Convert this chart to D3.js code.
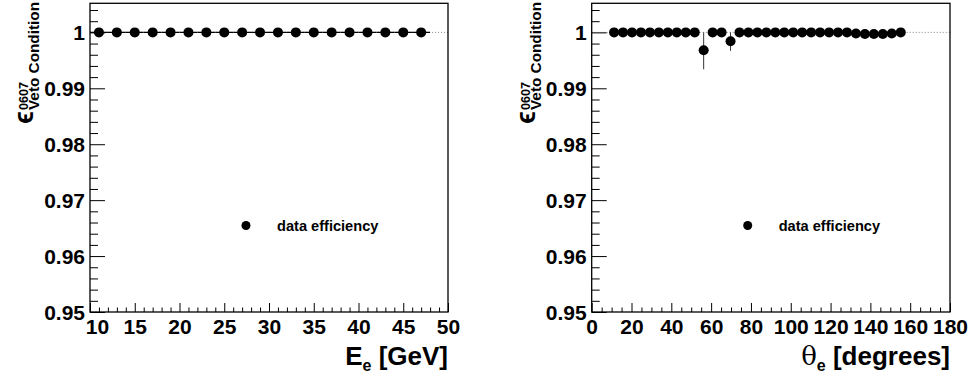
<!DOCTYPE html>
<html>
<head>
<meta charset="utf-8">
<script src="https://cdn.jsdelivr.net/npm/d3@7"></script>
<style>
  html, body { margin: 0; padding: 0; background: #fff; }
  svg { display: block; }
  text { font-family: "Liberation Sans", Arial, Helvetica, sans-serif; font-weight: bold; fill: #000; }
</style>
</head>
<body>
<svg id="chart" width="970" height="379"></svg>
<script>
// ---------------- data ----------------
const energyCenters = [11, 13, 15, 17, 19, 21, 23, 25, 27, 29, 31, 33, 35, 37, 39, 41, 43, 45, 47];
const energyEff     = [1, 1, 1, 1, 1, 1, 1, 1, 1, 1, 1, 1, 1, 1, 1, 1, 1, 1, 1];
const energyErrLow  = [0, 0, 0, 0, 0, 0, 0, 0, 0, 0, 0, 0, 0, 0, 0, 0, 0, 0, 0];
const energyErrHigh = [0, 0, 0, 0, 0, 0, 0, 0, 0, 0, 0, 0, 0, 0, 0, 0, 0, 0, 0];
const energyHalfWidth = 1;

const thetaCenters = [11.25, 15.75, 20.25, 24.75, 29.25, 33.75, 38.25, 42.75, 47.25, 51.75,
                      56.25, 60.75, 65.25, 69.75, 74.25, 78.75, 83.25, 87.75, 92.25, 96.75,
                      101.25, 105.75, 110.25, 114.75, 119.25, 123.75, 128.25, 132.75, 137.25, 141.75,
                      146.25, 150.75, 155.25];
const thetaEff     = [1, 1, 1, 1, 1, 1, 1, 1, 1, 1,
                      0.9968, 1, 1, 0.9984, 1, 1, 1, 1, 1, 1,
                      1, 1, 1, 1, 1, 1, 1, 0.9998, 0.9997, 0.9997,
                      0.9997, 0.9998, 1];
const thetaErrLow  = [0, 0, 0, 0, 0, 0, 0, 0, 0, 0,
                      0.0034, 0, 0, 0.0017, 0, 0, 0, 0, 0, 0,
                      0, 0, 0, 0, 0, 0, 0, 0.0002, 0.0003, 0.0003,
                      0.0003, 0.0002, 0];
const thetaErrHigh = [0, 0, 0, 0, 0, 0, 0, 0, 0, 0,
                      0.0032, 0, 0, 0.0016, 0, 0, 0, 0, 0, 0,
                      0, 0, 0, 0, 0, 0, 0, 0.0002, 0.0003, 0.0003,
                      0.0003, 0.0002, 0];
const thetaHalfWidth = 2.25;

const yTicks = [0.95, 0.96, 0.97, 0.98, 0.99, 1];
const yTickLabels = ["0.95", "0.96", "0.97", "0.98", "0.99", "1"];
const yMinorTicks = [0.952, 0.954, 0.956, 0.958, 0.962, 0.964, 0.966, 0.968, 0.972, 0.974, 0.976, 0.978,
                     0.982, 0.984, 0.986, 0.988, 0.992, 0.994, 0.996, 0.998, 1.002, 1.004];
const energyTicks = [10, 15, 20, 25, 30, 35, 40, 45, 50];
const energyMinorTicks = [11,12,13,14,16,17,18,19,21,22,23,24,26,27,28,29,31,32,33,34,36,37,38,39,41,42,43,44,46,47,48,49];
const thetaTicks = [0, 20, 40, 60, 80, 100, 120, 140, 160, 180];
const thetaMinorTicks = [5,10,15,25,30,35,45,50,55,65,70,75,85,90,95,105,110,115,125,130,135,145,150,155,165,170,175];
const legendLabel = "data efficiency";
const yTitleMain = "ϵ", yTitleSup = "0607", yTitleSub = "Veto Condition";

// ---------------- drawing ----------------
const svg = d3.select("#chart");
const fontSans = '"Liberation Sans", Arial, Helvetica, sans-serif';

function drawPanel(opt) {
  const { left, right, top, bottom, xDomain, xTicks, xMinor, centers, eff, errLo, errHi, halfW, xTitle } = opt;
  const x = d3.scaleLinear().domain(xDomain).range([left, right]);
  const y = d3.scaleLinear().domain([0.95, 1.0052]).range([bottom, top]);
  const g = svg.append("g");

  // dotted reference line at 1
  g.append("line")
    .attr("x1", left).attr("x2", right).attr("y1", y(1)).attr("y2", y(1))
    .attr("stroke", "#888").attr("stroke-width", 1).attr("stroke-dasharray", "1,2");

  // axes
  const axY = g.append("g").attr("transform", `translate(${left},0)`)
    .call(d3.axisLeft(y).tickValues(yTicks).tickSize(-15).tickPadding(5)
      .tickFormat((d, i) => yTickLabels[i]));
  axY.select(".domain").remove();
  axY.selectAll("text").attr("font-size", 21).attr("font-family", fontSans).attr("font-weight", "bold")
     .attr("dy", "0.36em");
  const axYm = g.append("g").attr("transform", `translate(${left},0)`)
    .call(d3.axisLeft(y).tickValues(yMinorTicks).tickSize(-8).tickFormat(""));
  axYm.select(".domain").remove();

  const axX = g.append("g").attr("transform", `translate(0,${bottom})`)
    .call(d3.axisBottom(x).tickValues(xTicks).tickSize(-9).tickPadding(7).tickFormat(d3.format("d")));
  axX.select(".domain").remove();
  axX.selectAll("text").attr("font-size", 21).attr("font-family", fontSans).attr("font-weight", "bold")
     .attr("dy", "0.71em");
  const axXm = g.append("g").attr("transform", `translate(0,${bottom})`)
    .call(d3.axisBottom(x).tickValues(xMinor).tickSize(-4.5).tickFormat(""));
  axXm.select(".domain").remove();
  g.selectAll(".tick line").attr("stroke", "#000").attr("stroke-width", 1);
  if (opt.firstLabelShift) {
    axX.select(".tick text").attr("dx", opt.firstLabelShift);
  }

  // frame
  g.append("rect").attr("x", left).attr("y", top).attr("width", right - left).attr("height", bottom - top)
    .attr("fill", "none").attr("stroke", "#000").attr("stroke-width", 1.3);

  // error bars
  const pts = centers.map((c, i) => ({ c, v: eff[i], lo: errLo[i], hi: errHi[i] }));
  g.append("g").selectAll("line.xerr").data(pts).join("line")
    .attr("x1", d => x(d.c - halfW)).attr("x2", d => x(d.c + halfW))
    .attr("y1", d => y(d.v)).attr("y2", d => y(d.v))
    .attr("stroke", "#000").attr("stroke-width", 1.3);
  g.append("g").selectAll("line.yerr").data(pts.filter(d => d.lo > 0 || d.hi > 0)).join("line")
    .attr("x1", d => x(d.c)).attr("x2", d => x(d.c))
    .attr("y1", d => y(d.v - d.lo)).attr("y2", d => y(Math.min(d.v + d.hi, 1)))
    .attr("stroke", "#333").attr("stroke-width", 1);
  g.append("g").selectAll("circle").data(pts).join("circle")
    .attr("cx", d => x(d.c)).attr("cy", d => y(d.v)).attr("r", 5).attr("fill", "#000");

  // legend
  const lx = left + 156, ly = 225.5;
  g.append("circle").attr("cx", lx).attr("cy", ly).attr("r", 4.5).attr("fill", "#000");
  g.append("text").attr("x", lx + 31).attr("y", ly + 5).attr("font-size", 14.6).text(legendLabel);

  // y title (rotated)
  const yt = (xx, yy, txt, size, weight, family, len) => {
    const t = g.append("text").attr("transform", `translate(${xx},${yy}) rotate(-90)`)
      .attr("font-size", size).attr("font-weight", weight)
      .attr("font-family", family || fontSans).text(txt);
    if (len) t.attr("textLength", len).attr("lengthAdjust", "spacingAndGlyphs");
    return t;
  };
  yt(left - 57, 124, yTitleMain, 27, "normal", '"DejaVu Sans", sans-serif');
  yt(left - 62, 110, yTitleSup, 12.5, "bold", null, 28);
  yt(left - 51, 110, yTitleSub, 15.5, "bold", null, 108);

  // x title
  const xt = g.append("text").attr("x", right).attr("y", 365).attr("text-anchor", "end")
    .attr("font-size", 26);
  xt.append("tspan").attr("font-weight", xTitle.mainBold ? "bold" : "normal")
    .attr("font-family", xTitle.mainBold ? fontSans : '"DejaVu Serif", serif').text(xTitle.main);
  xt.append("tspan").attr("font-size", 16).attr("dy", 6).text(xTitle.sub);
  xt.append("tspan").attr("dy", -6).text(xTitle.rest);
}

drawPanel({
  left: 90, right: 448, top: 3.3, bottom: 312,
  xDomain: [10, 50], xTicks: energyTicks, xMinor: energyMinorTicks,
  centers: energyCenters, eff: energyEff, errLo: energyErrLow, errHi: energyErrHigh, halfW: energyHalfWidth,
  xTitle: { main: "E", mainBold: true, sub: "e", rest: " [GeV]" },
  firstLabelShift: 7
});
drawPanel({
  left: 591.7, right: 950, top: 3.3, bottom: 312,
  xDomain: [0, 180], xTicks: thetaTicks, xMinor: thetaMinorTicks,
  centers: thetaCenters, eff: thetaEff, errLo: thetaErrLow, errHi: thetaErrHigh, halfW: thetaHalfWidth,
  xTitle: { main: "θ", mainBold: false, sub: "e", rest: " [degrees]" }
});
</script>
</body>
</html>
